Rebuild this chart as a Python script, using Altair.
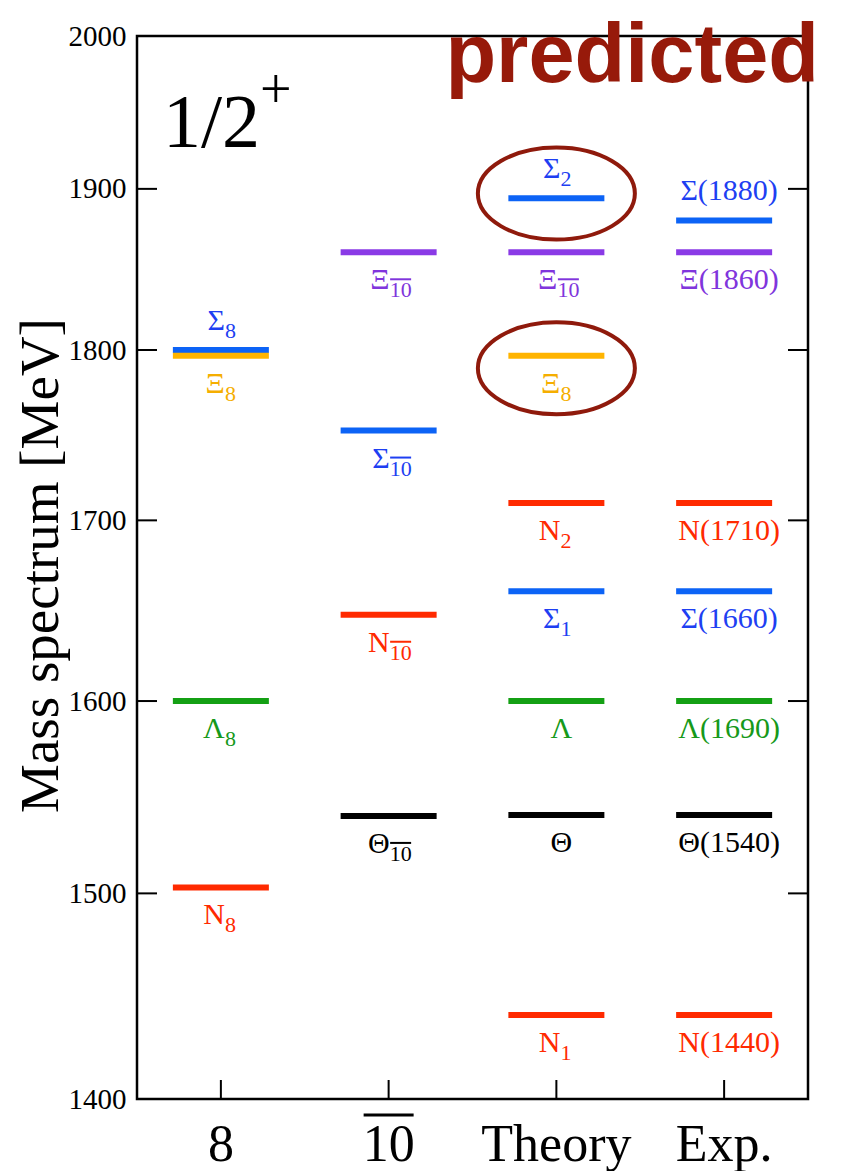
import altair as alt
import pandas as pd

# ---------------- data ----------------
columns = ["8", "10", "Theory", "Exp."]
tick_values = [1400, 1500, 1600, 1700, 1800, 1900, 2000]

level_col = ["8", "8", "8", "8",
             "10", "10", "10", "10",
             "Theory", "Theory", "Theory", "Theory", "Theory", "Theory", "Theory", "Theory",
             "Exp.", "Exp.", "Exp.", "Exp.", "Exp.", "Exp.", "Exp."]
level_mass = [1800, 1796.5, 1600, 1503,
              1860, 1752, 1647, 1539.5,
              1894, 1860, 1796.5, 1710, 1660, 1600, 1540, 1440,
              1880, 1860, 1710, 1660, 1600, 1540, 1440]
level_kind = ["Sigma", "Xi", "Lambda", "N",
              "Xi10", "Sigma", "N", "Theta",
              "Sigma", "Xi10", "Xi", "N", "Sigma", "Lambda", "Theta", "N",
              "Sigma", "Xi10", "N", "Sigma", "Lambda", "Theta", "N"]
level_main = ["Σ", "Ξ", "Λ", "N",
              "Ξ", "Σ", "N", "Θ",
              "Σ", "Ξ", "Ξ", "N", "Σ", "Λ", "Θ", "N",
              "Σ(1880)", "Ξ(1860)", "N(1710)", "Σ(1660)", "Λ(1690)", "Θ(1540)", "N(1440)"]
level_sub = ["8", "8", "8", "8",
             "10", "10", "10", "10",
             "2", "10", "8", "2", "1", "", "", "1",
             "", "", "", "", "", "", ""]
level_pos = ["above", "below", "below", "below",
             "below", "below", "below", "below",
             "above", "below", "below", "below", "below", "below", "below", "below",
             "above", "below", "below", "below", "below", "below", "below"]

ellipse_col = ["Theory", "Theory"]
ellipse_mass = [1897, 1789]

spin_text = ["1/2"]
parity_text = ["+"]
stamp_text = ["predicted"]
y_title = "Mass spectrum [MeV]"

# ---------------- styles ----------------
kinds = ["Sigma", "Xi", "Xi10", "Lambda", "N", "Theta"]
bar_colors = ["#0C63F6", "#FFB400", "#8A3AE6", "#14A014", "#FF2A00", "#000000"]
text_colors = ["#1E3FF2", "#F5AE00", "#8035DC", "#16991A", "#FF2A00", "#000000"]
SERIF = "Liberation Serif"
SANS = "Liberation Sans"
W, H = 671, 1063

df = pd.DataFrame({"col": level_col, "mass": level_mass, "kind": level_kind,
                   "main": level_main, "sub": level_sub, "pos": level_pos})
df["sublen"] = df["sub"].str.len()
ell = pd.DataFrame({"col": ellipse_col, "mass": ellipse_mass})
ticks_df = pd.DataFrame({"mass": tick_values})
cols_df = pd.DataFrame({"col": columns})

yscale = alt.Scale(type="log", domain=[1400, 2000], nice=False, zero=False)
xscale = alt.Scale(domain=columns, paddingInner=0, paddingOuter=0)

X = alt.X("col:N", sort=columns, scale=xscale,
          axis=alt.Axis(title=None, labelFont=SERIF, labelFontSize=52, labelColor="black",
                        labelAngle=0, labelPadding=20, ticks=False, domain=False, grid=False))
Y = alt.Y("mass:Q", scale=yscale,
          axis=alt.Axis(values=tick_values, format="d", ticks=False, domain=False, grid=False,
                        labelFont=SERIF, labelFontSize=29, labelColor="black", labelPadding=11,
                        labelFlush=False, labelOverlap=False, labelBaseline="middle",
                        title=y_title, titleFont=SERIF, titleFontSize=55, titleFontWeight="normal",
                        titleColor="black", titleAngle=270, titleX=-80, titleY=529,
                        titleAlign="center", titleBaseline="alphabetic"))
Xp = alt.X("col:N", sort=columns, scale=xscale)
Yp = alt.Y("mass:Q", scale=yscale)

bar_color = alt.Color("kind:N", scale=alt.Scale(domain=kinds, range=bar_colors), legend=None)
txt_color = alt.Color("kind:N", scale=alt.Scale(domain=kinds, range=text_colors), legend=None)

base = alt.Chart(df)

bars = base.mark_tick(size=96, thickness=6, opacity=1).encode(x=X, y=Y, color=bar_color)

layers = [bars]

# labels without subscript (centered)
for pos, dy in (("below", 37), ("above", -20)):
    layers.append(
        base.transform_filter(f"datum.pos == '{pos}' && datum.sublen == 0")
        .mark_text(font=SERIF, fontSize=30, align="center", baseline="alphabetic", dx=5, dy=dy)
        .encode(x=Xp, y=Yp, text="main:N", color=txt_color))

# labels with subscript: main symbol + subscript
for pos, dy in (("below", 37), ("above", -20)):
    for n, dx in ((1, 4), (2, 1)):
        flt = f"datum.pos == '{pos}' && datum.sublen == {n}"
        layers.append(
            base.transform_filter(flt)
            .mark_text(font=SERIF, fontSize=30, align="right", baseline="alphabetic", dx=dx, dy=dy)
            .encode(x=Xp, y=Yp, text="main:N", color=txt_color))
        layers.append(
            base.transform_filter(flt)
            .mark_text(font=SERIF, fontSize=22, align="left", baseline="alphabetic", dx=dx, dy=dy + 8)
            .encode(x=Xp, y=Yp, text="sub:N", color=txt_color))

# overline over "10" subscripts
layers.append(
    base.transform_filter("datum.sub == '10'")
    .mark_tick(size=21, thickness=2, xOffset=12, yOffset=27, opacity=1)
    .encode(x=Xp, y=Yp, color=txt_color))

# ellipses around predictions
ellipse_path = "M -1 0 A 1 0.586 0 1 0 1 0 A 1 0.586 0 1 0 -1 0 Z"
layers.append(
    alt.Chart(ell).mark_point(shape=ellipse_path, size=157 * 157, filled=False,
                              stroke="#8F1A0C", strokeWidth=4, opacity=1)
    .encode(x=Xp, y=Yp))

# inward ticks on left and right axes
layers.append(alt.Chart(ticks_df).mark_rule(color="black", strokeWidth=2)
              .encode(y=Yp, x=alt.value(0), x2=alt.value(20)))
layers.append(alt.Chart(ticks_df).mark_rule(color="black", strokeWidth=2)
              .encode(y=Yp, x=alt.value(W - 20), x2=alt.value(W)))
# inward ticks on bottom axis
layers.append(alt.Chart(cols_df).mark_rule(color="black", strokeWidth=2)
              .encode(x=Xp, y=alt.value(H), y2=alt.value(H - 19)))
# overline over the "10" axis label
layers.append(alt.Chart(cols_df).transform_filter("datum.col == '10'")
              .mark_tick(size=50, thickness=3, color="black", opacity=1, orient="horizontal")
              .encode(x=Xp, y=alt.value(H + 16)))

# annotations
layers.append(alt.Chart(pd.DataFrame({"t": spin_text}))
              .mark_text(font=SERIF, fontSize=76, align="left", baseline="alphabetic", color="black")
              .encode(text="t:N", x=alt.value(26), y=alt.value(111)))
layers.append(alt.Chart(pd.DataFrame({"t": parity_text}))
              .mark_text(font=SERIF, fontSize=56, align="left", baseline="alphabetic", color="black")
              .encode(text="t:N", x=alt.value(123), y=alt.value(72)))
layers.append(alt.Chart(pd.DataFrame({"t": stamp_text}))
              .mark_text(font=SANS, fontSize=83, fontWeight="bold", align="right",
                         baseline="alphabetic", color="#971A0A")
              .encode(text="t:N", x=alt.value(682), y=alt.value(46)))

chart = (alt.layer(*layers)
         .resolve_scale(color="independent")
         .properties(width=W, height=H,
                     autosize=alt.AutoSizeParams(type="none"),
                     padding={"left": 129, "top": 28, "right": 40, "bottom": 72},
                     background="white")
         .configure_axis(labelFont=SERIF, titleFont=SERIF)
         .configure_view(stroke="black", strokeWidth=2.5))

chart.save("out.html", embed_options={"renderer": "svg", "actions": False})
